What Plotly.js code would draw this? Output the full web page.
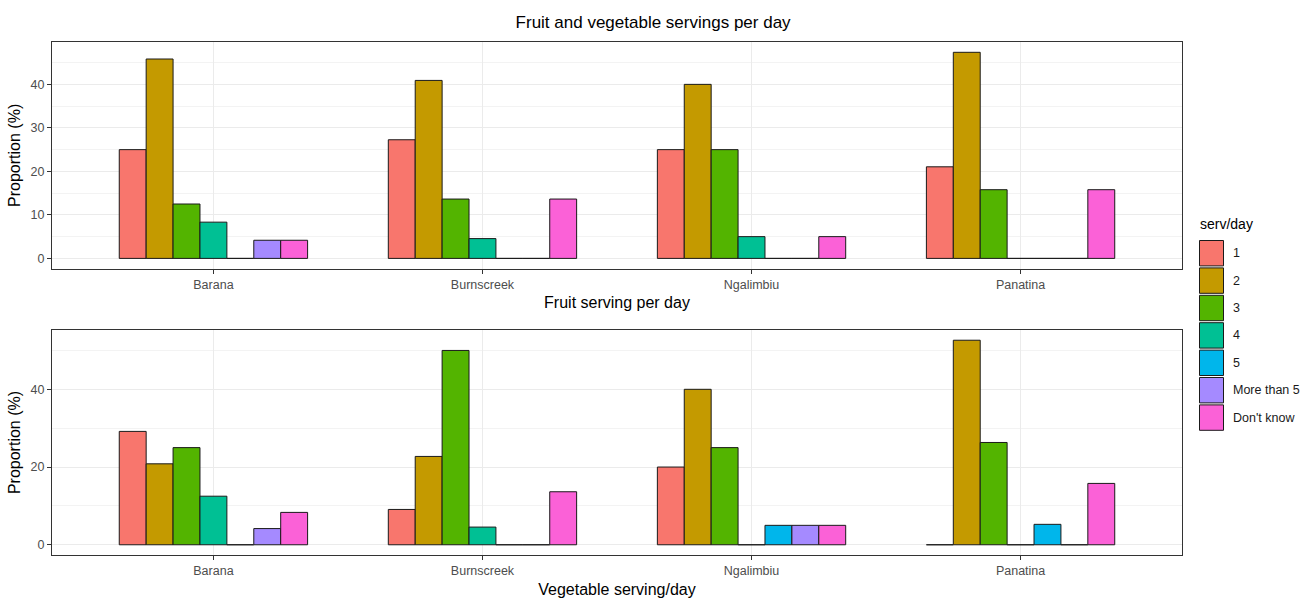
<!DOCTYPE html>
<html>
<head>
<meta charset="utf-8">
<script src="https://cdn.plot.ly/plotly-3.0.1.min.js"></script>
<style>
  html, body { margin: 0; padding: 0; background: #ffffff; }
  #chart { width: 1301px; height: 599px; }
</style>
</head>
<body>
<div id="chart"></div>
<script>
// Sites (x categories) and serving levels (fill groups)
const sites = ['Barana', 'Burnscreek', 'Ngalimbiu', 'Panatina'];
const servLevels = ['1', '2', '3', '4', '5', 'More than 5', "Don't know"];
const levelColors = ['#F8766D', '#C49A00', '#53B400', '#00C094', '#00B6EB', '#A58AFF', '#FB61D7'];

// Fruit servings per day: proportion (%) of respondents, ordered by site
const fruit1        = [25.00, 27.27, 25.00, 21.05];
const fruit2        = [45.83, 40.91, 40.00, 47.37];
const fruit3        = [12.50, 13.64, 25.00, 15.79];
const fruit4        = [8.33, 4.55, 5.00, 0];
const fruit5        = [0, 0, 0, 0];
const fruitMore5    = [4.17, 0, 0, 0];
const fruitDontKnow = [4.17, 13.64, 5.00, 15.79];

// Vegetable servings per day: proportion (%) of respondents, ordered by site
const veg1        = [29.17, 9.09, 20.00, 0];
const veg2        = [20.83, 22.73, 40.00, 52.63];
const veg3        = [25.00, 50.00, 25.00, 26.32];
const veg4        = [12.50, 4.55, 0, 0];
const veg5        = [0, 0, 5.00, 5.26];
const vegMore5    = [4.17, 0, 5.00, 0];
const vegDontKnow = [8.33, 13.64, 5.00, 15.79];

const fruitSeries = [fruit1, fruit2, fruit3, fruit4, fruit5, fruitMore5, fruitDontKnow];
const vegSeries   = [veg1, veg2, veg3, veg4, veg5, vegMore5, vegDontKnow];

const W = 1301, H = 599;
const M = { l: 52, r: 119, t: 42, b: 44 };
const plotW = W - M.l - M.r;
const plotH = H - M.t - M.b;
const xp = px => (px - M.l) / plotW;
const yp = py => (H - M.b - py) / plotH;

const outline = { color: '#1a1a1a', width: 1 };
const traces = [];
servLevels.forEach((lvl, i) => {
  traces.push({
    type: 'bar', name: lvl, x: sites, y: fruitSeries[i],
    xaxis: 'x', yaxis: 'y', showlegend: false,
    marker: { color: levelColors[i], line: outline },
    hovertemplate: '%{x}<br>' + lvl + ': %{y:.1f}%<extra></extra>'
  });
  traces.push({
    type: 'bar', name: lvl, x: sites, y: vegSeries[i],
    xaxis: 'x2', yaxis: 'y2', showlegend: false,
    marker: { color: levelColors[i], line: outline },
    hovertemplate: '%{x}<br>' + lvl + ': %{y:.1f}%<extra></extra>'
  });
});

// 5% padding around the data, as in the default continuous scale
const padRange = series => {
  const mx = Math.max(...series.flat());
  return [-0.05 * mx, 1.05 * mx];
};

const tickFont = { family: 'Liberation Sans, Arial, sans-serif', size: 12.5, color: '#4D4D4D' };
const titleFont = { family: 'Liberation Sans, Arial, sans-serif', size: 16, color: '#000000' };

const xBase = {
  type: 'category', range: [-0.6, 3.6], fixedrange: true,
  showgrid: true, gridcolor: '#EBEBEB', gridwidth: 1,
  showline: true, mirror: true, linecolor: '#333333', linewidth: 1,
  ticks: 'outside', ticklen: 4, tickcolor: '#333333', tickwidth: 1,
  tickfont: tickFont, zeroline: false, automargin: false
};
const yBase = {
  showgrid: true, gridcolor: '#EBEBEB', gridwidth: 1,
  showline: true, mirror: true, linecolor: '#333333', linewidth: 1,
  ticks: 'outside', ticklen: 4, tickcolor: '#333333', tickwidth: 1,
  tickfont: tickFont, zeroline: false, automargin: false, fixedrange: true,
  title: { text: 'Proportion (%)', font: titleFont, standoff: 5 }
};

const layout = {
  width: W, height: H,
  margin: M,
  paper_bgcolor: '#ffffff', plot_bgcolor: '#ffffff',
  barmode: 'group', bargap: 0.3, bargroupgap: 0,
  font: { family: 'Liberation Sans, Arial, sans-serif' },
  title: {
    text: 'Fruit and vegetable servings per day',
    font: { family: 'Liberation Sans, Arial, sans-serif', size: 17, color: '#000000' },
    xref: 'container', x: 0.502, xanchor: 'center',
    yref: 'container', y: 1 - 22 / H, yanchor: 'middle'
  },
  xaxis: Object.assign({}, xBase, {
    anchor: 'y',
    title: { text: 'Fruit serving per day', font: titleFont, standoff: 6 }
  }),
  yaxis: Object.assign({}, yBase, {
    anchor: 'x', domain: [yp(268.7), 1],
    range: padRange(fruitSeries), tick0: 0, dtick: 10,
    minor: { dtick: 5, showgrid: true, gridcolor: '#F3F3F3', gridwidth: 1, ticks: '' }
  }),
  xaxis2: Object.assign({}, xBase, {
    anchor: 'y2',
    title: { text: 'Vegetable serving/day', font: titleFont, standoff: 6 }
  }),
  yaxis2: Object.assign({}, yBase, {
    anchor: 'x2', domain: [0, yp(330)],
    range: padRange(vegSeries), tick0: 0, dtick: 20,
    minor: { dtick: 10, showgrid: true, gridcolor: '#F3F3F3', gridwidth: 1, ticks: '' }
  }),
  shapes: [],
  annotations: [{
    text: 'serv/day', xref: 'paper', yref: 'paper',
    x: xp(1198), y: yp(224), xanchor: 'left', yanchor: 'middle',
    showarrow: false, font: { family: 'Liberation Sans, Arial, sans-serif', size: 14, color: '#000000' }
  }]
};

// Legend keys for the fill scale
const keyTop = 239.5, keyH = 27.4, keyL = 1199.5, keyR = 1223.5;
servLevels.forEach((lvl, i) => {
  const y0 = keyTop + i * keyH;
  layout.shapes.push({
    type: 'rect', xref: 'paper', yref: 'paper',
    x0: xp(keyL), x1: xp(keyR), y0: yp(y0 + keyH - 1), y1: yp(y0 + 1),
    fillcolor: levelColors[i], line: { color: '#1a1a1a', width: 1 }
  });
  layout.annotations.push({
    text: lvl, xref: 'paper', yref: 'paper',
    x: xp(1231), y: yp(y0 + keyH / 2), xanchor: 'left', yanchor: 'middle',
    showarrow: false, font: { family: 'Liberation Sans, Arial, sans-serif', size: 12.5, color: '#1a1a1a' }
  });
});

Plotly.newPlot('chart', traces, layout, { displayModeBar: false, responsive: false });
</script>
</body>
</html>
